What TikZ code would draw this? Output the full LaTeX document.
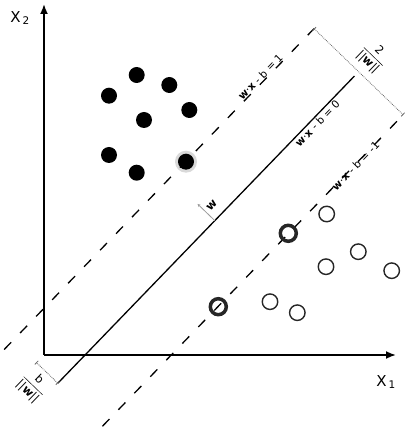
\documentclass[tikz,border=0pt]{standalone}
\usepackage{amsmath}
\usepackage{fontspec}
\setmainfont{DejaVu Sans}
\usepackage{tikz}
\usetikzlibrary{arrows.meta}
\tikzstyle{blackpt}=[circle,fill=black,inner sep=0pt,minimum size=16pt]
\tikzstyle{ringpt}=[circle,draw=black!85,line width=1.4pt,inner sep=0pt,minimum size=15.5pt]
\tikzstyle{svpt}=[ringpt,line width=3.5pt,minimum size=16pt]
\tikzstyle{axisline}=[line width=1.8pt,-{Latex[length=10pt,width=8pt]}]
\tikzstyle{hypline}=[line width=1.3pt]
\tikzstyle{margline}=[line width=1.3pt,dash pattern=on 10pt off 13pt]
\tikzstyle{distline}=[black!60,line width=0.8pt,densely dotted]
\tikzstyle{axlbl}=[font=\fontsize{15}{15}\selectfont]
\tikzstyle{eqlbl}=[font=\fontsize{10.5}{10.5}\selectfont,inner sep=0pt,rotate=46]
\tikzstyle{fraclbl}=[font=\fontsize{11.5}{11.5}\selectfont,inner sep=0pt,rotate=-44]

\begin{document}
\begin{tikzpicture}[x=1pt,y=1pt]
\useasboundingbox (0,0) rectangle (410,434);
\coordinate (O) at (44,79);
\coordinate (xend) at (396,79);
\coordinate (yend) at (44,430);
\node[circle,fill=black!15,minimum size=22pt] (halo) at (186,272.3) {};
\draw[axisline] (O)--(xend);
\draw[axisline] (O)--(yend);
\node[axlbl] (x1) at (386,52) {X\kern2pt\textsubscript{1}};
\node[axlbl] (x2) at (20,416) {X\kern2pt\textsubscript{2}};
\begin{scope}[shift={(87,81)},rotate=46]
\coordinate (s0) at (-42,0); \coordinate (s1) at (385,0);
\coordinate (u0) at (-55,62); \coordinate (u1) at (391,62);
\coordinate (l0) at (-42,-62); \coordinate (l1) at (391,-62);
\coordinate (d0) at (-42,0); \coordinate (d1) at (-42,30);
\coordinate (w0) at (184,0); \coordinate (w1) at (184,24);
\draw[hypline] (s0)--(s1);
\draw[margline] (u0)--(u1);
\draw[margline] (l0)--(l1);
\draw[distline,{Bar[width=5pt]}-{Bar[width=5pt]}] (u1)--(l1);
\draw[distline,{Bar[width=5pt]}-{Bar[width=5pt]}] (d0)--(d1);
\draw[black!40,line width=0.8pt,-{Stealth[length=3pt,width=3pt]}] (w0)--(w1);
\node[eqlbl,anchor=south] (eq1) at (319,63) {\textbf{w}·\textbf{x} - b = 1};
\node[eqlbl,anchor=north] (eq0) at (325,-2) {\textbf{w}·\textbf{x} - b = 0};
\node[eqlbl,anchor=north] (eqm) at (321,-59) {\textbf{w}·\textbf{x} - b = -1};
\node[eqlbl,font=\fontsize{11.5}{11.5}\selectfont] (wl) at (193,13) {\textbf{w}};
\node[fraclbl] (mw) at (412,0) {$\dfrac{\text{2}}{\text{||\textbf{w}||}}$};
\node[fraclbl] (bw) at (-61,16) {$\dfrac{\text{b}}{\text{||\textbf{w}||}}$};
\end{scope}
\node[blackpt] (p1) at (136.7,359) {};
\node[blackpt] (p2) at (169.3,349) {};
\node[blackpt] (p3) at (109,338.3) {};
\node[blackpt] (p4) at (189.3,324) {};
\node[blackpt] (p5) at (144,314) {};
\node[blackpt] (p6) at (109,279) {};
\node[blackpt] (p7) at (136.7,261.3) {};
\node[blackpt] (p8) at (186,272.3) {};
\node[ringpt] (q1) at (326.7,220) {};
\node[svpt] (q2) at (288.3,200.7) {};
\node[ringpt] (q3) at (358.3,182.3) {};
\node[ringpt] (q4) at (326,167.3) {};
\node[ringpt] (q5) at (391.7,163.3) {};
\node[svpt] (q6) at (218.3,127.3) {};
\node[ringpt] (q7) at (270,132.3) {};
\node[ringpt] (q8) at (297.3,121.3) {};
\end{tikzpicture}
\end{document}
